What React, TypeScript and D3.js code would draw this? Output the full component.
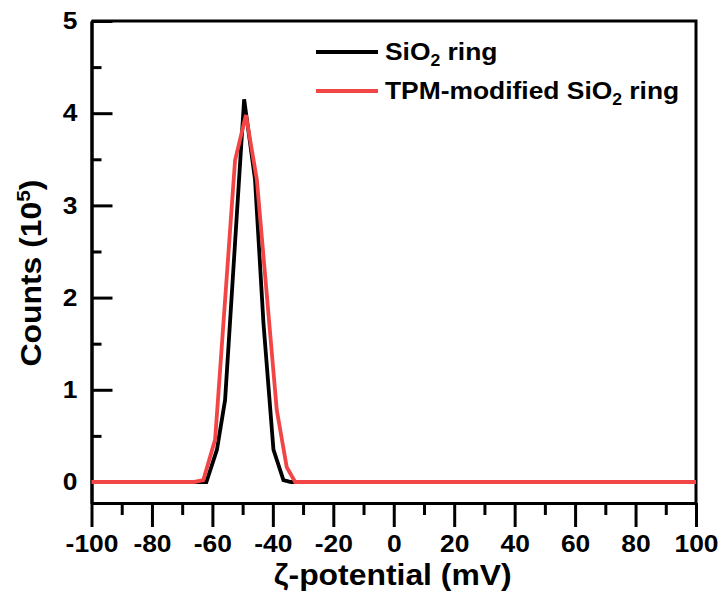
import React, { useEffect, useRef } from 'react';
import * as d3 from 'd3';

// zeta potential (mV) and counts (x10^5)
const sio2X = [-100, -65, -62, -58.5, -55.8, -49.5, -45.9, -43.1, -39.8, -36.5, -34, 100];
const sio2Y = [0, 0, 0, 0.35, 0.89, 4.15, 3.28, 1.72, 0.35, 0.02, 0, 0];

const tpmX = [-100, -66, -63, -59.1, -52.5, -48.9, -45.3, -38.7, -35.4, -32.6, 100];
const tpmY = [0, 0, 0.02, 0.46, 3.49, 3.98, 3.28, 0.78, 0.16, 0, 0];

const xMajor = [-100, -80, -60, -40, -20, 0, 20, 40, 60, 80, 100];
const xMinor = [-90, -70, -50, -30, -10, 10, 30, 50, 70, 90];
const yMajor = [0, 1, 2, 3, 4, 5];
const yMinor = [0.5, 1.5, 2.5, 3.5, 4.5];

const App = () => {
    const svgRef = useRef(null);

    useEffect(() => {
        const svg = d3.select(svgRef.current);
        svg.selectAll("*").remove();

        const left = 91.5, right = 696, top = 21, bottom = 503;
        const font = "'Liberation Sans', Arial, sans-serif";

        const x = d3.scaleLinear().domain([-100, 100]).range([left, right]);
        const y = d3.scaleLinear().domain([-0.228, 5]).range([bottom, top]);

        const styleAxis = (g) => {
            g.selectAll("path, line").attr("stroke", "#000").attr("stroke-width", 3);
            g.selectAll("text").attr("fill", "#000");
        };

        // box (top & right)
        svg.append("path")
            .attr("d", `M${left},${top}H${right}V${bottom}`)
            .attr("fill", "none")
            .attr("stroke", "#000")
            .attr("stroke-width", 3);

        // bottom axis, ticks outward
        svg.append("g")
            .attr("transform", `translate(0,${bottom})`)
            .call(d3.axisBottom(x).tickValues(xMinor).tickSize(12).tickSizeOuter(0).tickFormat(() => ""))
            .call(styleAxis);
        const xa = svg.append("g")
            .attr("transform", `translate(0,${bottom})`)
            .call(d3.axisBottom(x).tickValues(xMajor).tickSize(24).tickSizeOuter(0).tickPadding(8)
                .tickFormat(d => String(d)))
            .call(styleAxis);
        xa.selectAll("text")
            .attr("font-family", font)
            .attr("font-weight", "bold")
            .attr("font-size", 24)
            .attr("transform", "scale(1.1,1)");

        // left axis, ticks inward
        svg.append("g")
            .attr("transform", `translate(${left},0)`)
            .call(d3.axisLeft(y).tickValues(yMinor).tickSize(-10).tickSizeOuter(0).tickFormat(() => ""))
            .call(styleAxis);
        const ya = svg.append("g")
            .attr("transform", `translate(${left},0)`)
            .call(d3.axisLeft(y).tickValues(yMajor).tickSize(-21).tickSizeOuter(0).tickFormat(d => String(d)))
            .call(styleAxis);
        ya.selectAll("text")
            .attr("x", -14 / 1.1)
            .attr("font-family", font)
            .attr("font-weight", "bold")
            .attr("font-size", 24)
            .attr("transform", "scale(1.1,1)");

        // series
        const line = d3.line()
            .x(d => x(d[0]))
            .y(d => y(d[1]));

        const series = [
            { xs: sio2X, ys: sio2Y, color: "#000000", name: "SiO", rest: " ring", pre: "" },
            { xs: tpmX, ys: tpmY, color: "#f24545", name: "SiO", rest: " ring", pre: "TPM-modified " },
        ];

        series.forEach(s => {
            svg.append("path")
                .datum(s.xs.map((v, i) => [v, s.ys[i]]))
                .attr("fill", "none")
                .attr("stroke", s.color)
                .attr("stroke-width", 3.8)
                .attr("d", line);
        });

        // legend
        series.forEach((s, i) => {
            const ly = 52 + i * 39;
            svg.append("line")
                .attr("x1", 316).attr("x2", 378)
                .attr("y1", ly).attr("y2", ly)
                .attr("stroke", s.color)
                .attr("stroke-width", 3.8);
            const t = svg.append("text")
                .attr("transform", `translate(385,${ly + 8}) scale(1.1,1)`)
                .attr("font-family", font)
                .attr("font-weight", "bold")
                .attr("font-size", 24)
                .attr("fill", "#000");
            t.append("tspan").text(s.pre + s.name);
            t.append("tspan").attr("font-size", 16).attr("dy", 6).text("2");
            t.append("tspan").attr("dy", -6).text(s.rest);
        });

        // axis titles
        svg.append("text")
            .attr("transform", `translate(${(left + right) / 2 - 1},585) scale(1.1,1)`)
            .attr("text-anchor", "middle")
            .attr("font-family", font)
            .attr("font-weight", "bold")
            .attr("font-size", 29)
            .attr("fill", "#000")
            .text("ζ-potential (mV)");

        const yt = svg.append("text")
            .attr("transform", `translate(41,273) rotate(-90) scale(1.1,1)`)
            .attr("text-anchor", "middle")
            .attr("font-family", font)
            .attr("font-weight", "bold")
            .attr("font-size", 29)
            .attr("fill", "#000");
        yt.append("tspan").text("Counts (10");
        yt.append("tspan").attr("font-size", 19).attr("dy", -11).text("5");
        yt.append("tspan").attr("dy", 11).text(")");
    }, []);

    return (
        <svg ref={svgRef} width="721" height="592"
            style={{ position: 'absolute', left: 0, top: 0, background: '#fff' }}></svg>
    );
};

export default App;
